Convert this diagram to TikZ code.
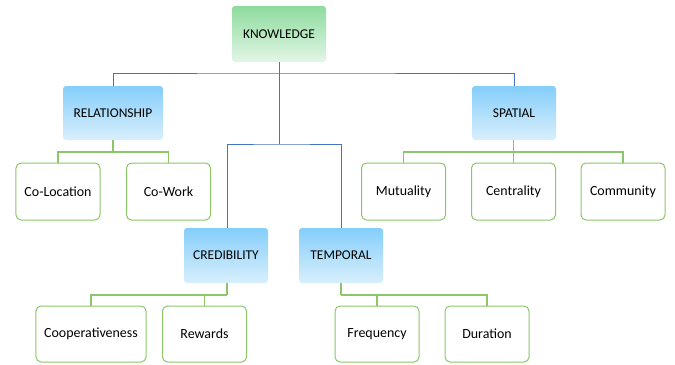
\documentclass[tikz,border=0pt]{standalone}
\usepackage{fontspec}
\setmainfont{Carlito}
\definecolor{bline}{HTML}{4472C4}
\definecolor{gline}{HTML}{8CC66A}
\definecolor{gtop}{HTML}{8EDB9E}
\definecolor{gbot}{HTML}{E2F6E6}
\definecolor{btop}{HTML}{84CEFA}
\definecolor{bbot}{HTML}{D9EFFC}
\begin{document}
\begin{tikzpicture}[x=1bp,y=-1bp,
  topbox/.style={rounded corners=3bp, minimum width=94bp, minimum height=56bp, top color=gtop, bottom color=gbot, draw=none, inner sep=0pt, font=\fontsize{13.5}{15}\selectfont},
  midbox/.style={rounded corners=3bp, minimum width=100bp, minimum height=54bp, top color=btop, bottom color=bbot, draw=none, inner sep=0pt, font=\fontsize{13.5}{15}\selectfont},
  leafbox/.style={rounded corners=5bp, minimum width=84bp, minimum height=57bp, fill=white, draw=gline, line width=1bp, inner sep=0pt, font=\fontsize{14}{16}\selectfont},
  bluecon/.style={draw=bline, line width=1bp},
  greencon/.style={draw=gline, line width=1.3bp}]
\useasboundingbox (0,0) rectangle (675,364);
% nodes
\node[topbox] (know) at (279,34) {KNOWLEDGE};
\node[midbox] (rel) at (113,113) {RELATIONSHIP};
\node[midbox, minimum width=84bp] (spa) at (514,113) {SPATIAL};
\node[midbox, minimum width=84bp, minimum height=55bp] (cred) at (226,255.5) {CREDIBILITY};
\node[midbox, minimum width=84bp, minimum height=55bp] (temp) at (341,255.5) {TEMPORAL};
\node[leafbox] (coloc) at (58,191.5) {Co-Location};
\node[leafbox] (cowork) at (168.5,191.5) {Co-Work};
\node[leafbox] (mutu) at (403.5,191.5) {Mutuality};
\node[leafbox] (centr) at (513.5,191.5) {Centrality};
\node[leafbox] (comm) at (623,191.5) {Community};
\node[leafbox, minimum width=110bp, minimum height=56bp] (coop) at (91,334) {Cooperativeness};
\node[leafbox, minimum height=56bp] (rew) at (204.5,334) {Rewards};
\node[leafbox, minimum height=56bp] (freq) at (377,334) {Frequency};
\node[leafbox, minimum height=56bp] (dur) at (487,334) {Duration};
% bus coordinates
\coordinate (b1) at (279,73);
\coordinate (b2) at (279,144);
\coordinate (g1) at (113,152);
\coordinate (g2) at (513.5,152);
\coordinate (g3) at (227,295);
\coordinate (g4) at (341,295);
% blue connectors
\draw[bluecon] (know.south) -- (b2);
\draw[bluecon] (rel.north) |- (b1) -| (spa.north);
\draw[bluecon] (cred.north -| g3) |- (b2) -| (temp.north);
% green connectors
\draw[greencon] (rel.south) -- (g1);
\draw[greencon] (coloc.north) |- (g1) -| (cowork.north);
\draw[greencon] (spa.south -| g2) -- (g2);
\draw[greencon] (mutu.north) |- (g2) -| (comm.north);
\draw[greencon] (g2) -- (centr.north);
\draw[greencon] (cred.south -| g3) -- (g3);
\draw[greencon] (coop.north) |- (g3);
\draw[greencon] (rew.north) -- (rew.north |- g3);
\draw[greencon] (temp.south) -- (g4);
\draw[greencon] (g4) -| (dur.north);
\draw[greencon] (freq.north) -- (freq.north |- g4);
\end{tikzpicture}
\end{document}
